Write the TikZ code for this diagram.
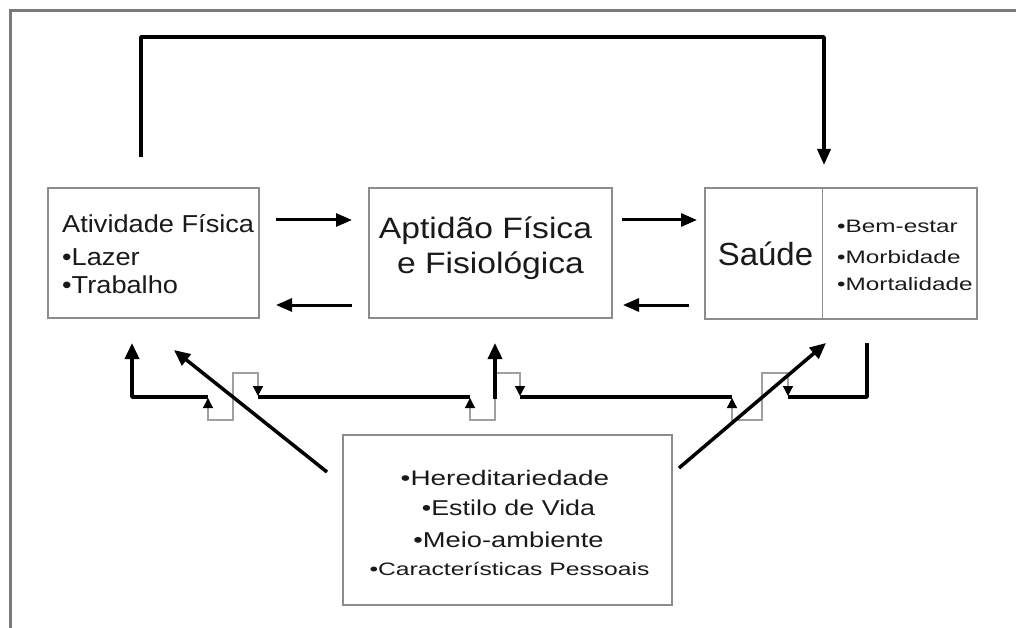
\documentclass[tikz,border=0pt]{standalone}
\usepackage{fontspec}
\setmainfont{Liberation Sans}
\usepackage{graphicx}
\usetikzlibrary{arrows.meta}
\definecolor{boxgray}{HTML}{8C8C8C}
\definecolor{hopgray}{HTML}{A0A0A0}
\definecolor{framegray}{HTML}{7A7A7A}
\definecolor{textcol}{HTML}{1A1A1A}
\newcommand{\hs}[2]{\scalebox{#1}[1]{#2}}
\tikzset{smalltip/.tip={Triangle[color=black,length=10pt,width=10pt]}}
\begin{document}
\begin{tikzpicture}[x=1pt,y=-1pt,
  box/.style={draw=boxgray,line width=1.3pt,inner sep=0pt},
  txt/.style={inner sep=0pt,text=textcol},
  arr/.style={line width=3pt,line join=round,-{Triangle[length=16pt,width=13pt]}},
  barr/.style={line width=3.5pt,line join=round,-{Triangle[length=16pt,width=14pt]}},
  thickln/.style={line width=3.5pt,line join=round},
  hop/.style={draw=hopgray,line width=1.3pt,line join=miter},
  frameln/.style={draw=framegray,line width=3pt}
]
\useasboundingbox (0,0) rectangle (1016,628);
\fill[white] (0,0) rectangle (1016,628);
\draw[frameln] (10.5,628) -- (10.5,11) -- (1016,11);

% boxes
\node[box,minimum width=211pt,minimum height=130pt] (af) at (153.5,253) {};
\node[box,minimum width=243pt,minimum height=130pt] (apt) at (490.5,253) {};
\node[box,minimum width=272pt,minimum height=131pt] (sau) at (841,253.5) {};
\node[box,minimum width=329pt,minimum height=170pt] (fat) at (507.5,520) {};
\draw[draw=boxgray,line width=1.3pt] ([xshift=118pt]sau.north west) -- ([xshift=118pt]sau.south west);

% texts
\node[txt,anchor=base west,font=\fontsize{24.5}{30}\selectfont] (af1) at (62,233) {\hs{1.11}{Atividade Física}};
\node[txt,anchor=base west,font=\fontsize{24.5}{30}\selectfont] (af2) at (62,265) {\hs{1.11}{•Lazer}};
\node[txt,anchor=base west,font=\fontsize{24.5}{30}\selectfont] (af3) at (62,293) {\hs{1.11}{•Trabalho}};

\node[txt,anchor=base,font=\fontsize{29.5}{35}\selectfont] (ap1) at (485.5,238) {\hs{1.14}{Aptidão Física}};
\node[txt,anchor=base,font=\fontsize{29.5}{35}\selectfont] (ap2) at (490.5,273) {\hs{1.14}{e Fisiológica}};

\node[txt,anchor=base,font=\fontsize{32}{38}\selectfont] (sa1) at (765.5,265) {\hs{1.03}{Saúde}};
\node[txt,anchor=base west,font=\fontsize{18}{22}\selectfont] (sa2) at (837,233) {\hs{1.35}{•Bem-estar}};
\node[txt,anchor=base west,font=\fontsize{18}{22}\selectfont] (sa3) at (837,263) {\hs{1.35}{•Morbidade}};
\node[txt,anchor=base west,font=\fontsize{18}{22}\selectfont] (sa4) at (837,290) {\hs{1.35}{•Mortalidade}};

\node[txt,anchor=base,font=\fontsize{21}{25}\selectfont] (f1) at (505,485) {\hs{1.33}{•Hereditariedade}};
\node[txt,anchor=base,font=\fontsize{21.5}{25}\selectfont] (f2) at (508.5,515) {\hs{1.25}{•Estilo de Vida}};
\node[txt,anchor=base,font=\fontsize{21.5}{25}\selectfont] (f3) at (508.5,547) {\hs{1.27}{•Meio-ambiente}};
\node[txt,anchor=base,font=\fontsize{18}{22}\selectfont] (f4) at (509.5,575) {\hs{1.37}{•Características Pessoais}};

% horizontal arrows
\coordinate (h1s) at (276,220); \coordinate (h1e) at (352,220);
\coordinate (h2s) at (352,305); \coordinate (h2e) at (276,305);
\coordinate (h3s) at (622,220); \coordinate (h3e) at (697,220);
\coordinate (h4s) at (689,305); \coordinate (h4e) at (623,305);
\draw[arr] (h1s) -- (h1e);
\draw[arr] (h2s) -- (h2e);
\draw[arr] (h3s) -- (h3e);
\draw[arr] (h4s) -- (h4e);

% top feedback arrow
\coordinate (t0) at (141,157); \coordinate (t1) at (824,165);
\draw[arr,line width=3.5pt] (t0) -- ++(0,-120) -| (t1);

% bottom network
\coordinate (b0) at (208,397); \coordinate (b1) at (132,343);
\draw[barr] (b0) -- (132,397) -- (b1);
\draw[hop,{smalltip}-{smalltip}] (208,398) -- (208,420) -- (233,420) -- (233,373) -- (258,373) -- (258,396);
\coordinate (b2) at (258,397); \coordinate (b3) at (470,397);
\draw[thickln] (b2) -- (b3);
\draw[hop,{smalltip}-] (470,398) -- (470,420) -- (495,420) -- (495,399);
\coordinate (b4) at (495,399); \coordinate (b5) at (495,343);
\draw[barr] (b4) -- (b5);
\draw[hop,-{smalltip}] (497,373) -- (520,373) -- (520,396);
\coordinate (b6) at (520,397); \coordinate (b7) at (732,397);
\draw[thickln] (b6) -- (b7);
\draw[hop,{smalltip}-{smalltip}] (732,398) -- (732,420) -- (762,420) -- (762,373) -- (788,373) -- (788,396);
\coordinate (b8) at (788,397); \coordinate (b9) at (867,343);
\draw[thickln] (b8) -- (867,397) -- (b9);

% diagonal arrows
\coordinate (d1s) at (327,472); \coordinate (d1e) at (174,350);
\coordinate (d2s) at (679,468); \coordinate (d2e) at (826,343);
\draw[barr] (d1s) -- (d1e);
\draw[barr] (d2s) -- (d2e);
\end{tikzpicture}
\end{document}
